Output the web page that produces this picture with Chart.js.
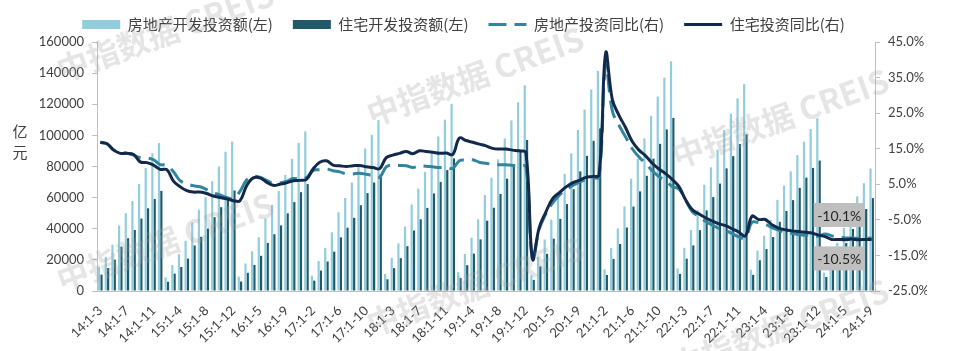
<!DOCTYPE html>
<html>
<head>
<meta charset="utf-8">
<script src="https://cdn.jsdelivr.net/npm/chart.js@4.4.1/dist/chart.umd.min.js"></script>
<style>
  html, body { margin: 0; padding: 0; background: #fff; }
</style>
</head>
<body>
<canvas id="chart" width="954" height="351"></canvas>
<script>
// categories: 14:1-3 ... 24:1-9
const years = ['14', '15', '16', '17', '18', '19', '20', '21', '22', '23', '24'];
const periods = ['1-2', '1-3', '1-4', '1-5', '1-6', '1-7', '1-8', '1-9', '1-10', '1-11', '1-12'];
const allLabels = [];
years.forEach(y => periods.forEach(p => allLabels.push(y + ':' + p)));
const labels = allLabels.slice(1, 118);

// 房地产开发投资额 (亿元, 累计)
const totalInvest = [
  15339, 21791, 29662, 42019, 50011, 57832, 68751, 78995, 88526, 95036,
  8786, 16651, 23669, 32209, 43955, 52204, 60298, 70535, 80036, 89522, 95979,
  9236, 17677, 25531, 34542, 46631, 55337, 64160, 74598, 84965, 95134, 102581,
  9854, 19292, 27732, 37673, 50610, 59761, 69694, 80644, 91533, 100387, 109799,
  10971, 21291, 30592, 41358, 55531, 65825, 76519, 88948, 99325, 110083, 120264,
  12090, 23803, 34217, 46075, 61609, 72843, 84589, 98008, 109603, 121265, 132194,
  10115, 21963, 33103, 45920, 62780, 75325, 88454, 103484, 116556, 129492, 141443,
  13986, 27576, 40240, 54318, 72179, 84895, 98011, 112559, 124934, 137086, 147602,
  14499, 27765, 39154, 52134, 68314, 79462, 90809, 103559, 113945, 123863, 132895,
  13669, 25974, 35514, 45701, 58550, 67717, 76900, 87269, 95922, 104045, 110913,
  11842, 22082, 30928, 40632, 52529, 60877, 69284, 78680
];

// 住宅开发投资额 (亿元, 累计)
const houseInvest = [
  10525, 14803, 20176, 28469, 33883, 39189, 46580, 53161, 59144, 64352,
  5941, 11144, 15440, 20822, 29268, 34832, 40130, 47425, 53852, 59676, 64595,
  6057, 11703, 16750, 22630, 30896, 36500, 42150, 49900, 57100, 63500, 68704,
  6656, 13133, 18942, 25266, 34478, 40700, 47000, 55128, 62900, 69700, 75148,
  7564, 14695, 21134, 28830, 38849, 46100, 53400, 62665, 70100, 77700, 85192,
  8318, 16566, 24019, 33150, 45167, 53500, 62331, 72146, 80999, 89538, 97071,
  7134, 15804, 23887, 33640, 46350, 55860, 65454, 76856, 86816, 96536, 104446,
  10307, 20624, 30208, 40804, 54259, 64025, 74020, 85056, 94591, 103803, 111173,
  10995, 20761, 29278, 39093, 51804, 60361, 69050, 78792, 86690, 94433, 100646,
  10394, 19767, 26924, 34660, 44439, 51372, 58373, 66279, 72863, 79096, 83820,
  8971, 16774, 23514, 30823, 39883, 46230, 52659, 59701
];

// 房地产投资同比 (%)
const totalYoY = [
  16.8, 16.4, 14.7, 14.1, 13.7, 13.2, 12.5, 12.4, 11.9, 10.5,
  10.4, 8.5, 6.0, 5.1, 4.6, 4.3, 3.5, 2.6, 2.0, 1.3, 1.0,
  3.0, 6.2, 7.2, 7.0, 6.1, 5.3, 5.4, 5.8, 6.6, 6.5, 6.9,
  8.9, 9.1, 9.3, 8.8, 8.5, 7.9, 7.9, 8.1, 7.8, 7.5, 7.0,
  9.9, 10.4, 10.3, 10.2, 9.7, 10.2, 10.1, 9.9, 9.7, 9.7, 9.5,
  11.6, 11.8, 11.9, 11.2, 10.9, 10.6, 10.5, 10.5, 10.3, 10.2, 9.9,
  -16.3, -7.7, -3.3, -0.3, 1.9, 3.4, 4.6, 5.6, 6.3, 6.8, 7.0,
  38.3, 25.6, 21.6, 18.3, 15.0, 12.7, 10.9, 8.8, 7.2, 6.0, 4.4,
  3.7, 0.7, -2.7, -4.0, -5.4, -6.4, -7.4, -8.0, -8.8, -9.8, -10.0,
  -5.7, -5.8, -6.2, -7.2, -7.9, -8.5, -8.8, -9.1, -9.3, -9.4, -9.6,
  -9.0, -9.5, -9.8, -10.1, -10.1, -10.2, -10.2, -10.1
];

// 住宅投资同比 (%)
const houseYoY = [
  16.8, 16.4, 14.6, 13.7, 13.7, 13.4, 11.3, 11.1, 10.4, 9.2,
  9.1, 5.9, 4.3, 3.2, 2.8, 2.8, 2.4, 1.7, 1.3, 0.9, 0.4,
  0.4, 4.6, 6.8, 6.8, 5.6, 4.7, 5.0, 5.4, 6.0, 6.1, 6.4,
  9.3, 11.2, 11.6, 10.4, 10.2, 10.0, 10.2, 10.3, 9.9, 9.7, 9.4,
  12.5, 13.2, 13.7, 14.2, 13.6, 14.4, 14.2, 14.0, 13.7, 13.8, 13.4,
  18.0, 17.3, 16.8, 16.3, 15.8, 15.1, 14.9, 14.9, 14.6, 14.4, 13.9,
  -16.0, -7.2, -2.8, 0.9, 2.6, 4.2, 5.4, 6.1, 6.9, 7.2, 7.6,
  41.9, 28.8, 24.4, 20.9, 17.0, 14.6, 13.0, 10.9, 9.3, 8.0, 6.4,
  4.4, 0.7, -2.1, -3.3, -4.4, -5.3, -6.1, -6.6, -7.5, -8.4, -9.5,
  -4.0, -4.9, -4.9, -6.4, -7.3, -7.8, -8.1, -8.3, -8.5, -8.7, -9.3,
  -9.7, -10.5, -10.5, -10.6, -10.4, -10.6, -10.5, -10.5
];

const leftTicks = { min: 0, max: 160000, step: 20000 };
const rightTicks = { min: -25, max: 45, step: 10 };

const NUM_FONT = "Lato, 'Noto Sans CJK SC', sans-serif";
const CJK_FONT = "'Noto Sans CJK SC', sans-serif";
const TEXT = '#404040';
const AXIS = '#bfbfbf';

// watermark, 亿元 title and the two end labels
const extras = {
  id: 'extras',
  afterDatasetsDraw(chart) {
    const ctx = chart.ctx;
    const y1 = chart.scales.y1;
    const meta = chart.getDatasetMeta(3);
    const last = meta.data[meta.data.length - 1];
    const boxes = [
      { v: totalYoY[totalYoY.length - 1], dy: -23 },
      { v: houseYoY[houseYoY.length - 1], dy: 19 }
    ];
    ctx.save();
    ctx.font = '14px ' + NUM_FONT;
    ctx.textAlign = 'center';
    ctx.textBaseline = 'middle';
    boxes.forEach(b => {
      const cy = y1.getPixelForValue(b.v) + b.dy;
      const right = last.x - 7;
      ctx.fillStyle = '#bfbfbf';
      ctx.fillRect(right - 51, cy - 12, 51, 24);
      ctx.fillStyle = '#262626';
      ctx.fillText(b.v.toFixed(1) + '%', right - 25.5, cy + 1);
    });
    ctx.restore();
  },
  afterDraw(chart) {
    const ctx = chart.ctx;
    ctx.save();
    // axis title, stacked
    ctx.fillStyle = TEXT;
    ctx.font = '15px ' + CJK_FONT;
    ctx.textAlign = 'center';
    ctx.textBaseline = 'middle';
    ctx.fillText('亿', 20, 131);
    ctx.fillText('元', 20, 152);
    // watermark
    ctx.font = 'bold 32px ' + CJK_FONT;
    ctx.fillStyle = 'rgba(160,160,160,0.28)';
    [[165, 32], [165, 242], [475, 76], [475, 286], [780, 118], [780, 328]].forEach(([x, y]) => {
      ctx.save();
      ctx.translate(x, y);
      ctx.rotate(-20 * Math.PI / 180);
      ctx.fillText('中指数据 CREIS', 0, 0);
      ctx.restore();
    });
    ctx.restore();
  }
};

new Chart(document.getElementById('chart'), {
  data: {
    labels: labels,
    datasets: [
      {
        type: 'bar', label: '房地产开发投资额(左)', data: totalInvest, yAxisID: 'y',
        backgroundColor: '#92cddc', categoryPercentage: 0.7, barPercentage: 0.95, order: 2
      },
      {
        type: 'bar', label: '住宅开发投资额(左)', data: houseInvest, yAxisID: 'y',
        backgroundColor: '#215968', categoryPercentage: 0.7, barPercentage: 0.95, order: 2
      },
      {
        type: 'line', label: '房地产投资同比(右)', data: totalYoY, yAxisID: 'y1',
        borderColor: '#31859c', borderWidth: 3, borderDash: [18, 8], pointRadius: 0,
        tension: 0.4, order: 1
      },
      {
        type: 'line', label: '住宅投资同比(右)', data: houseYoY, yAxisID: 'y1',
        borderColor: '#13294b', borderWidth: 3, pointRadius: 0, tension: 0.4, order: 0
      }
    ]
  },
  options: {
    responsive: false,
    animation: false,
    devicePixelRatio: 1,
    layout: { padding: { top: -3, right: 27, left: 0, bottom: 0 } },
    plugins: {
      tooltip: { enabled: false },
      legend: {
        position: 'top',
        labels: {
          usePointStyle: true,
          pointStyleWidth: 38,
          boxHeight: 9,
          padding: 20,
          color: TEXT,
          font: { size: 15, family: CJK_FONT },
          generateLabels(chart) {
            return chart.data.datasets.map((ds, i) => {
              const isLine = ds.type === 'line';
              return {
                text: ds.label,
                fillStyle: isLine ? 'rgba(0,0,0,0)' : ds.backgroundColor,
                strokeStyle: isLine ? ds.borderColor : ds.backgroundColor,
                lineWidth: isLine ? 3 : 0,
                lineDash: ds.borderDash || [],
                pointStyle: isLine ? 'line' : 'rect',
                fontColor: TEXT,
                hidden: false,
                datasetIndex: i
              };
            });
          }
        }
      }
    },
    scales: {
      x: {
        offset: true,
        grid: { display: false },
        border: { display: true, color: AXIS },
        ticks: {
          autoSkip: false, minRotation: 45, maxRotation: 45, padding: 4,
          color: TEXT, font: { size: 13, family: NUM_FONT },
          callback: (v, i) => (i % 4 === 0 ? labels[i] : '')
        },
        afterFit: s => { s.height = 60; }
      },
      y: {
        position: 'left',
        min: leftTicks.min, max: leftTicks.max,
        grid: { drawOnChartArea: false, tickLength: 5, color: AXIS },
        border: { color: AXIS },
        ticks: {
          stepSize: leftTicks.step, padding: 8, color: TEXT,
          font: { size: 13, family: NUM_FONT },
          callback: v => String(v)
        },
        afterFit: s => { s.width = 97; }
      },
      y1: {
        position: 'right',
        min: rightTicks.min, max: rightTicks.max,
        grid: { drawOnChartArea: false, tickLength: 5, color: AXIS },
        border: { color: AXIS },
        ticks: {
          stepSize: rightTicks.step, padding: 8, color: TEXT,
          font: { size: 13, family: NUM_FONT },
          callback: v => v.toFixed(1) + '%'
        },
        afterFit: s => { s.width = 52; }
      }
    }
  },
  plugins: [extras]
});
</script>
</body>
</html>
